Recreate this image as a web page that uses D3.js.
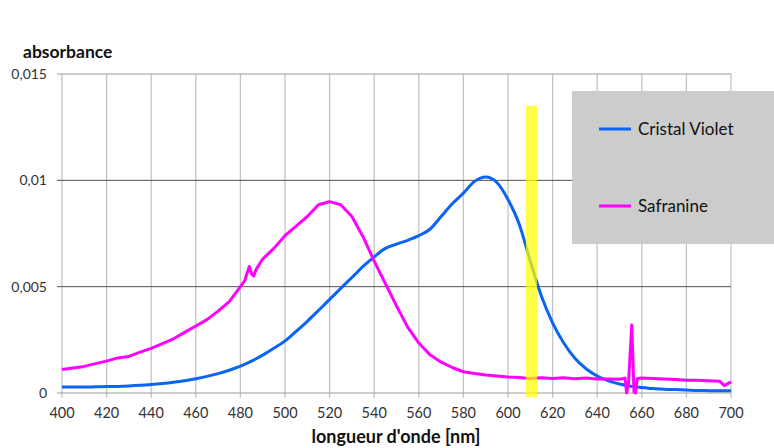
<!DOCTYPE html>
<html><head><meta charset="utf-8">
<script src="https://cdn.jsdelivr.net/npm/d3@7"></script>
<style>body{margin:0;background:#fff}svg{display:block}text{font-family:Lato,"Open Sans",sans-serif}</style>
</head><body><svg id="c" width="774" height="448"></svg>
<script>
const xTicks = [400,420,440,460,480,500,520,540,560,580,600,620,640,660,680,700];
const yTicks = [0,0.005,0.01,0.015];
const yTickLabels = ["0","0,005","0,01","0,015"];
const seriesNames = ["Cristal Violet","Safranine"];
const seriesColors = ["#0a64f5","#ff00ff"];

const violetNm = [400,405,410,415,420,425,430,435,440,445,450,455,460,465,470,475,480,485,490,495,500,505,510,515,520,525,530,535,540,545,550,555,560,565,570,575,580,585,590,595,600,605,610,615,620,625,630,635,640,645,650,655,660,665,670,675,680,685,690,695,700];
const violetAbs = [0.00028,0.00028,0.00028,0.00029,0.00030,0.00031,0.00033,0.00036,0.00040,0.00045,0.00051,0.00058,0.00067,0.00078,0.00091,0.00107,0.00126,0.00150,0.00178,0.00210,0.00245,0.00290,0.00337,0.00388,0.00440,0.00492,0.00543,0.00595,0.00640,0.00680,0.00700,0.00718,0.00740,0.00770,0.00830,0.00890,0.00940,0.00995,0.01016,0.00990,0.00910,0.00795,0.00620,0.00455,0.00330,0.00235,0.00163,0.00114,0.00080,0.00057,0.00042,0.00032,0.00026,0.00021,0.00018,0.00016,0.00014,0.00012,0.00011,0.00010,0.00010];

const safraNm = [400,405,410,415,420,425,430,435,440,445,450,455,460,465,470,475,480,482,484,485,486,487,490,495,500,505,510,515,520,525,530,535,540,545,550,555,560,565,570,575,580,585,590,595,600,605,610,615,620,625,630,635,640,645,650,652.5,653.2,654,655.5,656.5,657.2,658,660,665,670,675,680,685,690,695,697,700];
const safraAbs = [0.00110,0.00118,0.00125,0.00138,0.00150,0.00165,0.00172,0.00192,0.00210,0.00232,0.00255,0.00285,0.00315,0.00345,0.00385,0.00430,0.00500,0.00530,0.00595,0.00560,0.00550,0.00580,0.00630,0.00680,0.00740,0.00785,0.00830,0.00885,0.00900,0.00885,0.00830,0.00735,0.00620,0.00515,0.00410,0.00310,0.00235,0.00180,0.00145,0.00120,0.00100,0.00092,0.00085,0.00080,0.00075,0.00073,0.00068,0.00072,0.00068,0.00072,0.00067,0.00071,0.00066,0.00066,0.00065,0.00070,0.00000,0.00040,0.00320,0.00005,0.00000,0.00068,0.00070,0.00068,0.00066,0.00064,0.00060,0.00060,0.00058,0.00055,0.00035,0.00052];

const highlightNm = [608,613];
const highlightAbs = [-0.0002,0.0135];

const svg = d3.select("#c");
const x = d3.scaleLinear().domain([400,700]).range([62,731]);
const y = d3.scaleLinear().domain([0,0.015]).range([393,74]);

// vertical grid
svg.append("g").selectAll("line").data(xTicks).join("line")
  .attr("x1",d=>x(d)).attr("x2",d=>x(d)).attr("y1",y(0.015)).attr("y2",y(0)+5)
  .attr("stroke","#c4c4c4").attr("stroke-width",1.3);
// horizontal grid
svg.append("g").selectAll("line").data(yTicks).join("line")
  .attr("x1",x(400)-5).attr("x2",x(700)).attr("y1",d=>y(d)).attr("y2",d=>y(d))
  .attr("stroke",d=>(d===0||d===0.015)?"#9a9a9a":"#505050").attr("stroke-width",1);

// tick labels
svg.append("g").selectAll("text").data(xTicks).join("text")
  .attr("x",d=>x(d)).attr("y",418).attr("text-anchor","middle")
  .attr("font-size",14.5).attr("fill","#333").text(d=>d);
svg.append("g").selectAll("text").data(yTicks).join("text")
  .attr("x",47).attr("y",d=>y(d)+5).attr("text-anchor","end")
  .attr("font-size",14).attr("fill","#333").text((d,i)=>yTickLabels[i]);

svg.append("text").attr("x",23).attr("y",58).attr("font-weight","bold").attr("font-size",17.5).attr("fill","#111").text("absorbance");
svg.append("text").attr("x",396).attr("y",443).attr("text-anchor","middle").attr("font-weight","bold").attr("font-size",18).attr("fill","#111").text("longueur d'onde [nm]");

const line = d3.line().x(d=>x(d[0])).y(d=>y(d[1])).curve(d3.curveMonotoneX);
svg.append("path").datum(violetNm.map((v,i)=>[v,violetAbs[i]]))
  .attr("d",line).attr("fill","none").attr("stroke",seriesColors[0]).attr("stroke-width",3).attr("stroke-linejoin","round");
svg.append("path").datum(safraNm.map((v,i)=>[v,safraAbs[i]]))
  .attr("d",d3.line().x(d=>x(d[0])).y(d=>y(d[1]))).attr("fill","none").attr("stroke",seriesColors[1]).attr("stroke-width",3).attr("stroke-linejoin","round");

// highlight bar
svg.append("rect").attr("x",x(highlightNm[0])).attr("width",x(highlightNm[1])-x(highlightNm[0]))
  .attr("y",y(highlightAbs[1])).attr("height",y(highlightAbs[0])-y(highlightAbs[1]))
  .attr("fill","#ffff00").attr("opacity",0.72);

// legend
const lg = svg.append("g");
lg.append("rect").attr("x",572).attr("y",91).attr("width",202).attr("height",153).attr("fill","#cccccc");
const ly = [129,206];
seriesNames.forEach((n,i)=>{
  lg.append("line").attr("x1",599).attr("x2",631).attr("y1",ly[i]).attr("y2",ly[i]).attr("stroke",seriesColors[i]).attr("stroke-width",3);
  lg.append("text").attr("x",638).attr("y",ly[i]+6).attr("font-size",17).attr("fill","#111").text(n);
});
</script></body></html>
